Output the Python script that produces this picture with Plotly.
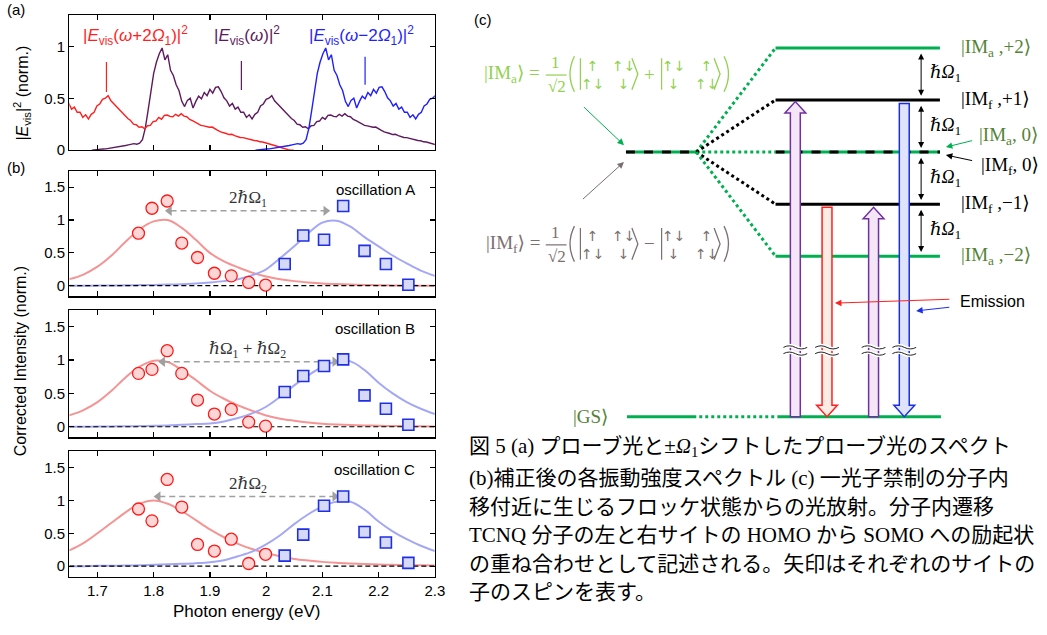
import plotly.graph_objects as go

W, H = 1047, 635

# ---------------- panel (a): probe spectrum |E_vis(w)|^2 ----------------
probe_energy = [round(1.690 + 0.005 * i, 3) for i in range(131)]  # eV grid 1.690 ... 2.340
probe_intensity = [
    0.000, 0.004, 0.006, 0.008, 0.011, 0.012, 0.016, 0.019, 0.022, 0.027,
    0.030, 0.036, 0.044, 0.050, 0.056, 0.062, 0.057, 0.066, 0.100, 0.210,
    0.380, 0.580, 0.740, 0.850, 0.930, 0.985, 0.870, 0.920, 0.770, 0.720,
    0.630, 0.575, 0.470, 0.420, 0.480, 0.500, 0.405, 0.470, 0.520, 0.495,
    0.555, 0.525, 0.585, 0.550, 0.605, 0.610, 0.565, 0.505, 0.475, 0.425,
    0.450, 0.395, 0.415, 0.365, 0.365, 0.315, 0.340, 0.300, 0.345, 0.365,
    0.425, 0.445, 0.490, 0.500, 0.525, 0.475, 0.445, 0.415, 0.385, 0.355,
    0.335, 0.305, 0.285, 0.250, 0.245, 0.220, 0.225, 0.205, 0.235, 0.238,
    0.275, 0.280, 0.315, 0.298, 0.335, 0.338, 0.325, 0.322, 0.345, 0.328,
    0.352, 0.328, 0.322, 0.296, 0.284, 0.266, 0.254, 0.238, 0.234, 0.228,
    0.220, 0.222, 0.210, 0.190, 0.175, 0.170, 0.160, 0.150, 0.152, 0.140,
    0.130, 0.122, 0.120, 0.112, 0.110, 0.100, 0.092, 0.090, 0.080, 0.078,
    0.070, 0.062, 0.060, 0.050, 0.040, 0.030, 0.020, 0.010, 0.005, 0.000,
    0.000,
]
TWO_HBAR_OMEGA1 = 0.291  # eV, shift of the sideband spectra

vis_mark_energy = [1.716, 1.956, 2.176]
vis_mark_low = [0.56, 0.58, 0.63]
vis_mark_high = [0.85, 0.86, 0.90]

# ---------------- panel (b): corrected oscillation intensities ----------------
red_energy = [1.773, 1.797, 1.824, 1.850, 1.878, 1.908, 1.938, 1.969, 1.999]
blue_energy = [2.033, 2.066, 2.103, 2.137, 2.175, 2.213, 2.253]

osc_a_red = [0.80, 1.18, 1.29, 0.65, 0.43, 0.19, 0.15, 0.05, 0.01]
osc_a_blue = [0.33, 0.765, 0.70, 1.215, 0.53, 0.33, 0.015]
osc_b_red = [0.80, 0.86, 1.14, 0.80, 0.40, 0.19, 0.26, 0.07, 0.01]
osc_b_blue = [0.52, 0.76, 0.91, 1.01, 0.47, 0.27, 0.03]
osc_c_red = [0.87, 0.69, 1.32, 0.90, 0.33, 0.23, 0.41, 0.04, 0.18]
osc_c_blue = [0.16, 0.48, 0.92, 1.06, 0.52, 0.36, 0.05]

fit_energy = [1.650, 1.675, 1.700, 1.725, 1.750, 1.775, 1.800, 1.825, 1.850,
              1.875, 1.900, 1.925, 1.950, 1.975, 2.000, 2.025, 2.050, 2.075,
              2.100, 2.125, 2.150, 2.175, 2.200, 2.225, 2.250, 2.275, 2.300]
fit_a_red = [0.10, 0.17, 0.29, 0.46, 0.67, 0.86, 0.98, 1.00, 0.88, 0.70, 0.50, 0.37, 0.28, 0.20,
             0.14, 0.10, 0.07, 0.05, 0.035, 0.025, 0.018, 0.012, 0.008, 0.005, 0.003, 0.001, 0.0]
fit_a_blue = [0.0, 0.0, 0.002, 0.004, 0.006, 0.009, 0.012, 0.017, 0.024, 0.035, 0.05, 0.07, 0.10,
              0.16, 0.25, 0.42, 0.60, 0.80, 0.96, 0.99, 0.90, 0.74, 0.60, 0.46, 0.34, 0.23, 0.15]
fit_b_red = [0.17, 0.25, 0.37, 0.54, 0.74, 0.90, 0.99, 0.97, 0.85, 0.70, 0.54, 0.42, 0.32, 0.24,
             0.17, 0.12, 0.09, 0.065, 0.045, 0.033, 0.025, 0.019, 0.015, 0.011, 0.008, 0.006, 0.005]
fit_b_blue = [0.0, 0.0, 0.003, 0.005, 0.007, 0.01, 0.015, 0.02, 0.03, 0.04, 0.05, 0.08, 0.13,
              0.20, 0.30, 0.45, 0.62, 0.77, 0.90, 0.98, 0.98, 0.85, 0.66, 0.50, 0.37, 0.27, 0.19]
fit_c_red = [0.24, 0.35, 0.50, 0.66, 0.82, 0.95, 1.00, 0.95, 0.84, 0.70, 0.56, 0.44, 0.34, 0.26,
             0.20, 0.15, 0.11, 0.085, 0.065, 0.05, 0.04, 0.032, 0.025, 0.02, 0.015, 0.012, 0.01]
fit_c_blue = [0.0, 0.0, 0.004, 0.006, 0.008, 0.012, 0.02, 0.027, 0.035, 0.045, 0.06, 0.09, 0.15,
              0.22, 0.33, 0.47, 0.64, 0.79, 0.91, 0.98, 0.98, 0.86, 0.68, 0.53, 0.41, 0.31, 0.23]

peak_red = [1.820, 1.808, 1.800]
peak_blue = [2.114, 2.130, 2.130]
shift_arrow_level = [1.14, 0.975, 1.06]
shift_labels = ["2ℏΩ<sub>1</sub>", "ℏΩ<sub>1</sub> + ℏΩ<sub>2</sub>", "2ℏΩ<sub>2</sub>"]
osc_names = ["oscillation A", "oscillation B", "oscillation C"]

x_tick_vals = [1.7, 1.8, 1.9, 2.0, 2.1, 2.2, 2.3]
x_tick_text = ["1.7", "1.8", "1.9", "2", "2.1", "2.2", "2.3"]
ya_tick_vals = [0, 0.5, 1]
ya_tick_text = ["0", "0.5", "1"]
yb_tick_vals = [0, 0.5, 1, 1.5]
yb_tick_text = ["0", "0.5", "1", "1.5"]

# ---------------- panel (c): Floquet level scheme (units of ħΩ1) ----------------
floquet_levels = [2, 1, -1, -2]
floquet_kind = ["a", "f", "f", "a"]
floquet_labels = ["|IM<sub>a</sub> ,+2⟩", "|IM<sub>f</sub> ,+1⟩",
                  "|IM<sub>f</sub> ,−1⟩", "|IM<sub>a</sub> ,−2⟩"]
GS_LEVEL = -5.08
BREAK_LEVEL = -3.81

# ---------------- styling ----------------
SANS = "Liberation Sans, Arial, sans-serif"
SERIF = "Liberation Serif, DejaVu Serif, serif"
SYM = "DejaVu Sans, sans-serif"
CJK = "Liberation Serif, Noto Sans CJK JP, serif"
RED, PURPLE, BLUE = "#ff1f1f", "#5e1a5e", "#1f1fff"
LEVEL_GREEN = "#00b050"
LABEL_GREEN = "#548235"
FORM_GREEN = "#92d050"
FORM_GRAY = "#7a7070"


def px(x):
    return x / W


def py(y):
    return 1 - y / H


fig = go.Figure()

# ---- panel (a) spectra ----
fig.add_trace(go.Scatter(x=probe_energy, y=probe_intensity, mode="lines",
                         line=dict(color=PURPLE, width=1.4), xaxis="x", yaxis="y"))
fig.add_trace(go.Scatter(x=[e - TWO_HBAR_OMEGA1 for e in probe_energy], y=probe_intensity,
                         mode="lines", line=dict(color=RED, width=1.4), xaxis="x", yaxis="y"))
fig.add_trace(go.Scatter(x=[e + TWO_HBAR_OMEGA1 for e in probe_energy], y=probe_intensity,
                         mode="lines", line=dict(color=BLUE, width=1.4), xaxis="x", yaxis="y"))
for e, lo, hi, c in zip(vis_mark_energy, vis_mark_low, vis_mark_high, [RED, PURPLE, BLUE]):
    fig.add_shape(type="line", xref="x", yref="y", x0=e, x1=e, y0=lo, y1=hi,
                  line=dict(color=c, width=1.2))

label_specs = [
    (1.671, "|<i>E</i><sub>vis</sub>(<i>ω</i>+2<i>Ω</i><sub>1</sub>)|<sup>2</sup>", RED),
    (1.904, "|<i>E</i><sub>vis</sub>(<i>ω</i>)|<sup>2</sup>", PURPLE),
    (2.072, "|<i>E</i><sub>vis</sub>(<i>ω</i>−2<i>Ω</i><sub>1</sub>)|<sup>2</sup>", BLUE),
]
for xe, txt, c in label_specs:
    fig.add_annotation(x=xe, y=1.11, xref="x", yref="y", text=txt, showarrow=False,
                       xanchor="left", yanchor="middle", font=dict(family=SANS, size=17, color=c))

# ---- panel (b) ----
panels = [
    ("x2", "y2", osc_a_red, osc_a_blue, fit_a_red, fit_a_blue),
    ("x3", "y3", osc_b_red, osc_b_blue, fit_b_red, fit_b_blue),
    ("x4", "y4", osc_c_red, osc_c_blue, fit_c_red, fit_c_blue),
]
for i, (xa, ya, pr, pb, fr, fb) in enumerate(panels):
    fig.add_trace(go.Scatter(x=fit_energy, y=fr, mode="lines", line=dict(color="#f59494", width=2, shape="spline"),
                             xaxis=xa, yaxis=ya))
    fig.add_trace(go.Scatter(x=fit_energy, y=fb, mode="lines", line=dict(color="#a4a8f4", width=2, shape="spline"),
                             xaxis=xa, yaxis=ya))
    fig.add_trace(go.Scatter(x=[fit_energy[0], fit_energy[-1]], y=[0, 0], mode="lines",
                             line=dict(color="black", width=1.2, dash="5px,3px"), xaxis=xa, yaxis=ya))
    # shift arrow between the two fitted peaks
    lvl = shift_arrow_level[i]
    fig.add_trace(go.Scatter(x=[peak_red[i] + 0.01, peak_blue[i] - 0.01], y=[lvl, lvl], mode="lines",
                             line=dict(color="#a0a0a0", width=1.5, dash="6px,4px"), xaxis=xa, yaxis=ya))
    fig.add_trace(go.Scatter(x=[peak_red[i] + 0.008, peak_blue[i] - 0.008], y=[lvl, lvl], mode="markers",
                             marker=dict(symbol=["triangle-left", "triangle-right"], size=9, color="#a0a0a0"),
                             xaxis=xa, yaxis=ya))
    fig.add_trace(go.Scatter(x=red_energy, y=pr, mode="markers",
                             marker=dict(symbol="circle", size=12, color="#ffd6d6",
                                         line=dict(color="#ff1a1a", width=1.3)),
                             xaxis=xa, yaxis=ya))
    fig.add_trace(go.Scatter(x=blue_energy, y=pb, mode="markers",
                             marker=dict(symbol="square", size=11, color="#d6daf8",
                                         line=dict(color="#1f2fe6", width=1.6)),
                             xaxis=xa, yaxis=ya))
    fig.add_annotation(x=1.967, y=lvl + 0.18, xref=xa, yref=ya, text=shift_labels[i], showarrow=False,
                       xanchor="center", yanchor="middle", font=dict(family=SERIF, size=17, color="#333333"))
    fig.add_annotation(x=2.268, y=1.47, xref=xa, yref=ya, text=osc_names[i], showarrow=False,
                       xanchor="right", yanchor="middle", font=dict(family=SANS, size=15, color="black"))

# ---- axes ----
axis_style = dict(showline=True, linecolor="black", linewidth=1.3, mirror="ticks", ticks="inside",
                  ticklen=5, tickwidth=1.2, tickcolor="black", showgrid=False, zeroline=False,
                  tickfont=dict(family=SANS, size=15, color="black"), fixedrange=True)
xdom = [px(70), px(439)]
ydoms = [[py(152), py(15)], [py(300), py(173)], [py(443), py(314)], [py(584), py(457)]]
layout_axes = {}
for k in range(4):
    xn = "xaxis" if k == 0 else f"xaxis{k + 1}"
    yn = "yaxis" if k == 0 else f"yaxis{k + 1}"
    xid = "x" if k == 0 else f"x{k + 1}"
    yid = "y" if k == 0 else f"y{k + 1}"
    layout_axes[xn] = dict(axis_style, domain=xdom, range=[1.65, 2.3], anchor=yid,
                           tickvals=x_tick_vals, ticktext=x_tick_text, showticklabels=(k == 3))
    if k == 0:
        layout_axes[yn] = dict(axis_style, domain=ydoms[k], range=[0, 1.305], anchor=xid,
                               tickvals=ya_tick_vals, ticktext=ya_tick_text)
    else:
        layout_axes[yn] = dict(axis_style, domain=ydoms[k], range=[-0.16, 1.75], anchor=xid,
                               tickvals=yb_tick_vals, ticktext=yb_tick_text)

# diagram axes: x in pixels from the panel edge, y in units of ħΩ1
Y0_PX, LEVEL_PX = 154, 52.75
layout_axes["xaxis5"] = dict(domain=[px(455), 1], range=[0, W - 455], anchor="y5", visible=False, fixedrange=True)
layout_axes["yaxis5"] = dict(domain=[0, 1], range=[(Y0_PX - H) / LEVEL_PX, Y0_PX / LEVEL_PX], anchor="x5",
                             visible=False, fixedrange=True)
fig.add_trace(go.Scatter(x=[], y=[], xaxis="x5", yaxis="y5"))

# ---- panel (c) level scheme ----
XL0, XL1, XR0, XR1 = 177, 248, 328, 494


def seg(x0, y0, x1, y1, color, width=3, dash=None):
    fig.add_shape(type="line", xref="x5", yref="y5", x0=x0, y0=y0, x1=x1, y1=y1,
                  line=dict(color=color, width=width, dash=dash))


# unperturbed IM level (degenerate a/f) and the zero-photon Floquet level
for a, b in [(XL0, XL1), (XR0, XR1)]:
    seg(a, 0, b, 0, LEVEL_GREEN)
    seg(a, 0, b, 0, "black", dash="9px,9px")
seg(XL1, 0, XR0, 0, LEVEL_GREEN, dash="dot")
for lv, kind in zip(floquet_levels, floquet_kind):
    col = LEVEL_GREEN if kind == "a" else "black"
    seg(XL1, 0, XR0, lv, col, dash="dot")
    seg(XR0, lv, XR1, lv, col)
# ground state
seg(178, GS_LEVEL, XL1, GS_LEVEL, LEVEL_GREEN)
seg(XL1 + 3, GS_LEVEL, XR0 + 2, GS_LEVEL, LEVEL_GREEN, dash="dot")
seg(XR0 + 2, GS_LEVEL, XR1 + 1, GS_LEVEL, LEVEL_GREEN)


def block_arrow(xc, y_tail, y_tip, fill, edge):
    body, head, hl = 5, 10.5, 0.22
    yh = y_tip - hl if y_tip > y_tail else y_tip + hl
    pts = [(xc - body, y_tail), (xc - body, yh), (xc - head, yh), (xc, y_tip),
           (xc + head, yh), (xc + body, yh), (xc + body, y_tail)]
    path = "M " + " L ".join(f"{x:.2f},{y:.4f}" for x, y in pts) + " Z"
    fig.add_shape(type="path", path=path, xref="x5", yref="y5", fillcolor=fill,
                  line=dict(color=edge, width=1.5))


block_arrow(348, GS_LEVEL, 1 - 0.03, "#f4e6f6", "#7030a0")
block_arrow(380, -1 - 0.06, GS_LEVEL, "#fcece3", "#ff2020")
block_arrow(427, GS_LEVEL, -1 - 0.06, "#f4e6f6", "#7030a0")
block_arrow(458, 1 - 0.07, GS_LEVEL, "#e0e4fb", "#1a2ee8")

# axis-break marks on the vertical arrows
for xc in [348, 380, 427, 458]:
    for dy in (0.06, -0.06):
        yb = BREAK_LEVEL + dy
        wave = f"M {xc - 12},{yb} Q {xc - 6},{yb + 0.06} {xc},{yb} T {xc + 12},{yb}"
        fig.add_shape(type="path", path=wave, xref="x5", yref="y5", line=dict(color="white", width=4))
        fig.add_shape(type="path", path=wave, xref="x5", yref="y5", line=dict(color="#222222", width=1))

# ħΩ1 spacings
all_levels = [2, 1, 0, -1, -2]
for top, bot in zip(all_levels[:-1], all_levels[1:]):
    fig.add_annotation(x=475, y=bot + 0.08, ax=475, ay=top - 0.08, xref="x5", yref="y5",
                       axref="x5", ayref="y5", text="", showarrow=True, arrowside="end+start",
                       arrowhead=2, arrowsize=1.2, arrowwidth=1, arrowcolor="black")
    fig.add_annotation(x=482, y=(top + bot) / 2, xref="x5", yref="y5", text="ℏ<i>Ω</i><sub>1</sub>",
                       showarrow=False, xanchor="left", yanchor="middle",
                       font=dict(family=SERIF, size=18, color="black"))

for lv, kind, lab in zip(floquet_levels, floquet_kind, floquet_labels):
    fig.add_annotation(x=513, y=lv, xref="x5", yref="y5", text=lab, showarrow=False,
                       xanchor="left", yanchor="middle",
                       font=dict(family=SERIF, size=19, color=LABEL_GREEN if kind == "a" else "black"))
fig.add_annotation(x=531, y=0.31, xref="x5", yref="y5", text="|IM<sub>a</sub>, 0⟩", showarrow=False,
                   xanchor="left", yanchor="middle", font=dict(family=SERIF, size=19, color=LABEL_GREEN))
fig.add_annotation(x=533, y=-0.27, xref="x5", yref="y5", text="|IM<sub>f</sub>, 0⟩", showarrow=False,
                   xanchor="left", yanchor="middle", font=dict(family=SERIF, size=19, color="black"))
fig.add_annotation(x=162, y=GS_LEVEL, xref="x5", yref="y5", text="|GS⟩", showarrow=False,
                   xanchor="right", yanchor="middle", font=dict(family=SERIF, size=19, color=LABEL_GREEN))


def pointer(x_head, y_head, x_tail, y_tail, color, head=2, size=1.3):
    fig.add_annotation(x=x_head, y=y_head, ax=x_tail, ay=y_tail, xref="x5", yref="y5",
                       axref="x5", ayref="y5", text="", showarrow=True, arrowhead=head,
                       arrowsize=size, arrowwidth=1, arrowcolor=color)


pointer(500, 0.095, 528, 0.227, LEVEL_GREEN)
pointer(500, -0.057, 528, -0.17, "black")
pointer(175, 0.133, 133, 0.891, LEVEL_GREEN)
pointer(175, -0.19, 132, -0.929, FORM_GRAY)
pointer(388, -2.90, 505, -2.825, "#ff2020")
pointer(470, -3.05, 505, -2.976, "#1a2ee8")
fig.add_annotation(x=512, y=-2.863, xref="x5", yref="y5", text="Emission", showarrow=False,
                   xanchor="left", yanchor="middle", font=dict(family=SANS, size=16, color="black"))


# superposition formulas for |IM_a> and |IM_f>
def ket_formula(yc, sub, sign, color, x_name):
    def txt(x, y, t, size, fam=SERIF, anchor="center"):
        fig.add_annotation(x=px(x), y=py(y), xref="paper", yref="paper", text=t, showarrow=False,
                           xanchor=anchor, yanchor="middle", align="center",
                           font=dict(family=fam, size=size, color=color))

    def pline(x0, y0, x1, y1):
        fig.add_shape(type="line", xref="paper", yref="paper", x0=px(x0), y0=py(y0), x1=px(x1), y1=py(y1),
                      line=dict(color=color, width=1.2))

    def ppath(d):
        fig.add_shape(type="path", xref="paper", yref="paper", path=d, line=dict(color=color, width=1.3))

    txt(x_name, yc, f"|IM<sub>{sub}</sub>⟩ =", 19, anchor="right")
    txt(561, yc - 12, "1", 17)
    pline(551, yc + 1, 572, yc + 1)
    txt(562, yc + 13, "√2", 17)
    # large parentheses around the superposition
    ppath(f"M {px(580)},{py(yc - 18)} Q {px(571)},{py(yc)} {px(580)},{py(yc + 18)}")
    ppath(f"M {px(731)},{py(yc - 18)} Q {px(740)},{py(yc)} {px(731)},{py(yc + 18)}")
    for bar, c1, c2, ang in [(586, ("↑<br>↑↓", 598), ("↑↓<br>↓", 630), 638),
                             (668, ("↑↓<br>↓", 680), ("↑<br>↑↓", 713), 721)]:
        pline(bar, yc - 16, bar, yc + 16)
        txt(c1[1], yc + 1, c1[0], 14, fam=SYM)
        txt(c2[1], yc + 1, c2[0], 14, fam=SYM)
        ppath(f"M {px(ang)},{py(yc - 16)} L {px(ang + 6)},{py(yc)} L {px(ang)},{py(yc + 16)}")
    txt(656, yc, sign, 19)


ket_formula(75, "a", "+", FORM_GREEN, 547)
ket_formula(247, "f", "−", FORM_GRAY, 547)

# ---- panel letters and axis titles ----
for x, y, t in [(5, 10, "(a)"), (5, 170, "(b)"), (477, 20, "(c)")]:
    fig.add_annotation(x=px(x), y=py(y), xref="paper", yref="paper", text=t, showarrow=False,
                       xanchor="left", yanchor="middle", font=dict(family=SANS, size=15, color="black"))
fig.add_annotation(x=px(22), y=py(94), xref="paper", yref="paper",
                   text="|<i>E</i><sub>vis</sub>|<sup>2</sup> (norm.)", textangle=-90, showarrow=False,
                   xanchor="center", yanchor="middle", font=dict(family=SANS, size=16, color="black"))
fig.add_annotation(x=px(21), y=py(366), xref="paper", yref="paper", text="Corrected Intensity (norm.)",
                   textangle=-90, showarrow=False, xanchor="center", yanchor="middle",
                   font=dict(family=SANS, size=16, color="black"))
fig.add_annotation(x=px(249), y=py(619), xref="paper", yref="paper", text="Photon energy (eV)",
                   showarrow=False, xanchor="center", yanchor="middle",
                   font=dict(family=SANS, size=17, color="black"))

# ---- caption ----
caption_lines = [
    "図 5 (a) プローブ光と±<i>Ω</i><sub>1</sub>シフトしたプローブ光のスペクト",
    "(b)補正後の各振動強度スペクトル (c) 一光子禁制の分子内",
    "移付近に生じるフロッケ状態からの光放射。分子内遷移",
    "TCNQ 分子の左と右サイトの HOMO から SOMO への励起状",
    "の重ね合わせとして記述される。矢印はそれぞれのサイトの",
    "子のスピンを表す。",
]
caption_rows = [453, 484, 513, 542, 571, 600]
for t, yrow in zip(caption_lines, caption_rows):
    fig.add_annotation(x=px(472), y=py(yrow), xref="paper", yref="paper", text=t, showarrow=False,
                       xanchor="left", yanchor="middle", font=dict(family=CJK, size=21, color="black"))

fig.update_layout(width=W, height=H, autosize=False, margin=dict(l=0, r=0, t=0, b=0),
                  paper_bgcolor="white", plot_bgcolor="white", showlegend=False,
                  font=dict(family=SANS, color="black"), **layout_axes)

fig.write_html("out.html", config={"displayModeBar": False, "staticPlot": True})
